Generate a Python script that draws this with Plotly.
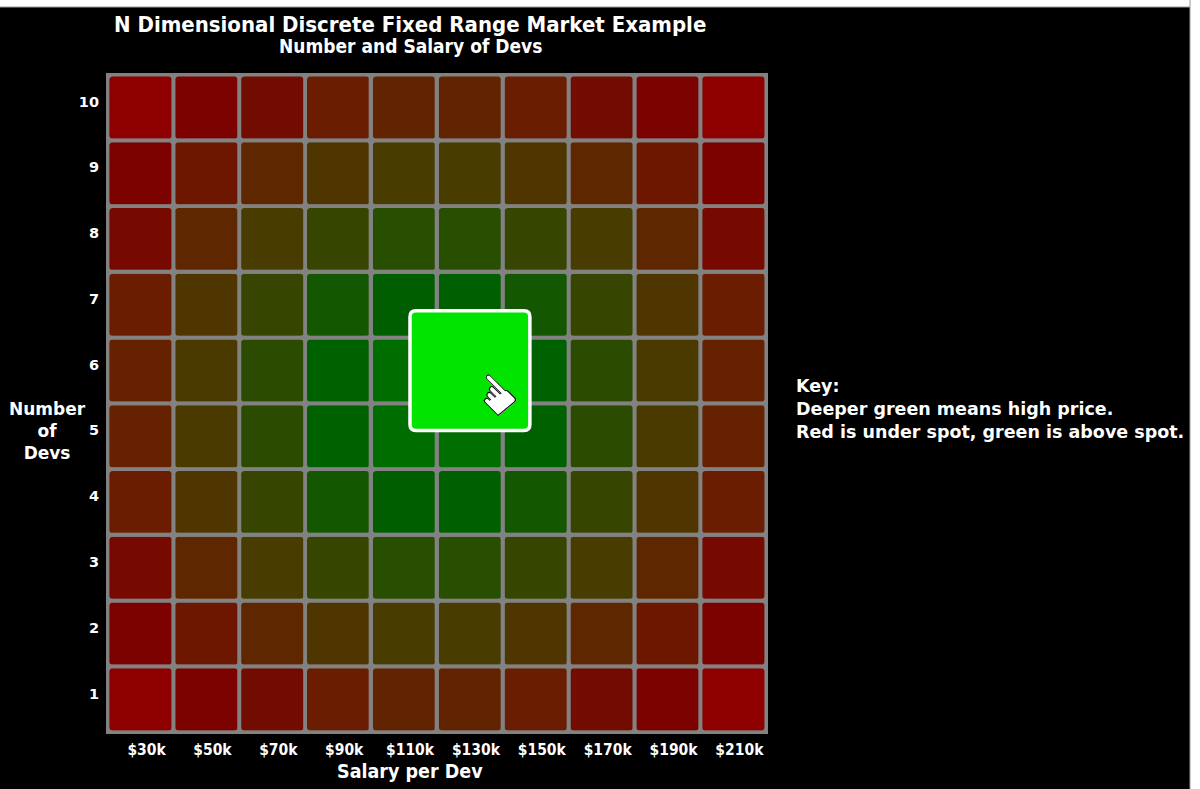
import plotly.graph_objects as go

# categories
salaries = ["$30k", "$50k", "$70k", "$90k", "$110k", "$130k", "$150k", "$170k", "$190k", "$210k"]
devs = [1, 2, 3, 4, 5, 6, 7, 8, 9, 10]

# price level per cell (0 = deep red / under spot, 1 = deep green), rows follow `devs`
row_1 = [0.00, 0.10, 0.17, 0.25, 0.31, 0.31, 0.25, 0.17, 0.10, 0.00]
row_2 = [0.10, 0.22, 0.33, 0.45, 0.50, 0.50, 0.45, 0.33, 0.22, 0.10]
row_3 = [0.15, 0.33, 0.50, 0.61, 0.70, 0.70, 0.61, 0.50, 0.33, 0.15]
row_4 = [0.25, 0.45, 0.61, 0.78, 0.85, 0.86, 0.78, 0.61, 0.45, 0.25]
row_5 = [0.28, 0.48, 0.68, 0.87, 0.95, 0.96, 0.87, 0.68, 0.48, 0.28]
row_6 = [0.28, 0.48, 0.68, 0.87, 0.95, 0.96, 0.87, 0.68, 0.48, 0.28]
row_7 = [0.25, 0.45, 0.61, 0.78, 0.85, 0.86, 0.78, 0.61, 0.45, 0.25]
row_8 = [0.15, 0.33, 0.50, 0.61, 0.70, 0.70, 0.61, 0.50, 0.33, 0.15]
row_9 = [0.10, 0.22, 0.33, 0.45, 0.50, 0.50, 0.45, 0.33, 0.22, 0.10]
row_10 = [0.00, 0.10, 0.17, 0.25, 0.31, 0.31, 0.25, 0.17, 0.10, 0.00]
price_grid = [row_1, row_2, row_3, row_4, row_5, row_6, row_7, row_8, row_9, row_10]

# the selected (spot) cell
spot_salary = "$130k"
spot_devs = 6

key_lines = [
    "Key:",
    "Deeper green means high price.",
    "Red is under spot, green is above spot.",
]

W, H = 1200, 789
L, R, T, B = 106, 432, 73, 55
PW, PH = W - L - R, H - T - B

COND = "DejaVu Sans Condensed, DejaVu Sans, sans-serif"
SANS = "DejaVu Sans, sans-serif"
GRID_GREY = "#828282"

red_green = [
    [0.00, "#8e0000"],
    [0.10, "#7c0200"],
    [0.17, "#730c00"],
    [0.25, "#6a1d00"],
    [0.50, "#483c00"],
    [0.70, "#284e00"],
    [0.85, "#005e00"],
    [1.00, "#007400"],
]


def px_x(p):
    """pixel column -> paper x"""
    return (p - L) / PW


def px_y(p):
    """pixel row -> paper y"""
    return (H - B - p) / PH


def rounded_rect(x0, y0, x1, y1, rx, ry):
    """SVG path of a rectangle with rounded corners, in data units."""
    return (
        f"M {x0 + rx},{y0} L {x1 - rx},{y0} Q {x1},{y0} {x1},{y0 + ry} "
        f"L {x1},{y1 - ry} Q {x1},{y1} {x1 - rx},{y1} "
        f"L {x0 + rx},{y1} Q {x0},{y1} {x0},{y1 - ry} "
        f"L {x0},{y0 + ry} Q {x0},{y0} {x0 + rx},{y0} Z"
    )


x_idx = list(range(len(salaries)))
pad = 0.025

fig = go.Figure()
fig.add_trace(
    go.Heatmap(
        x=x_idx,
        y=devs,
        z=price_grid,
        colorscale=red_green,
        zmin=0,
        zmax=1,
        xgap=3,
        ygap=3,
        showscale=False,
        hoverinfo="skip",
    )
)

# rounded grey outline of every cell
for xi in x_idx:
    for d in devs:
        fig.add_shape(
            type="path",
            path=rounded_rect(xi - 0.5, d - 0.5, xi + 0.5, d + 0.5, 0.08, 0.08),
            xref="x",
            yref="y",
            line=dict(color=GRID_GREY, width=3.5),
            layer="above",
        )

# highlighted spot cell, drawn enlarged over the grid
sx = salaries.index(spot_salary)
sy = spot_devs
half = 0.91
fig.add_shape(
    type="path",
    path=rounded_rect(sx - half, sy - half, sx + half, sy + half, 0.09, 0.09),
    xref="x",
    yref="y",
    fillcolor="#00e400",
    line=dict(color="white", width=3.5),
    layer="above",
)

# pointer over the spot cell
for glyph, colour in [("\u261a", "white"), ("\u261c", "black")]:
    fig.add_annotation(
        x=sx + 0.38,
        y=sy - 0.36,
        xref="x",
        yref="y",
        text=glyph,
        showarrow=False,
        textangle=45,
        font=dict(family=SANS, size=54, color=colour),
    )

# white frame strips around the black canvas
fig.add_shape(type="rect", xref="paper", yref="paper",
              x0=px_x(-5), x1=px_x(W + 5), y0=px_y(7), y1=px_y(-5),
              fillcolor="white", line=dict(color="#9a9a9a", width=1), layer="below")
fig.add_shape(type="rect", xref="paper", yref="paper",
              x0=px_x(1190), x1=px_x(W + 5), y0=px_y(H + 5), y1=px_y(-5),
              fillcolor="white", line=dict(color="#9a9a9a", width=1), layer="below")


def label(px, py, text, family, size, **kw):
    fig.add_annotation(
        x=px_x(px), y=px_y(py), xref="paper", yref="paper",
        xanchor=kw.pop("xanchor", "center"), yanchor="middle",
        text=text, showarrow=False,
        font=dict(family=family, size=size, color="white", weight="bold"),
        **kw,
    )


# titles and axis names
label(410, 25, "N Dimensional Discrete Fixed Range Market Example", COND, 22)
label(410, 46, "Number and Salary of Devs", COND, 19)
label(410, 771, "Salary per Dev", COND, 19.5)
label(48, 431, "Number<br>of<br>Devs", SANS, 17, align="center")
label(794, 409, "<br>".join(key_lines), SANS, 17.5, xanchor="left", align="left")

fig.update_xaxes(
    tickvals=x_idx,
    ticktext=salaries,
    range=[-0.5 - pad, len(salaries) - 0.5 + pad],
    showgrid=False,
    zeroline=False,
    ticks="",
    ticklabelstandoff=4,
    ticklabelshift=6,
    tickfont=dict(family=COND, size=15.5, color="white", weight="bold"),
)
fig.update_yaxes(
    tickvals=devs,
    range=[0.5 - pad, len(devs) + 0.5 + pad],
    showgrid=False,
    zeroline=False,
    ticks="",
    ticklabelshift=-6,
    ticklabelstandoff=6,
    tickfont=dict(family=SANS, size=14.5, color="white", weight="bold"),
)

fig.update_layout(
    width=W,
    height=H,
    margin=dict(l=L, r=R, t=T, b=B),
    paper_bgcolor="black",
    plot_bgcolor=GRID_GREY,
    showlegend=False,
)

fig.write_html(
    "out.html",
    config={"displayModeBar": False},
    post_script="document.body.style.margin='0px';",
)
